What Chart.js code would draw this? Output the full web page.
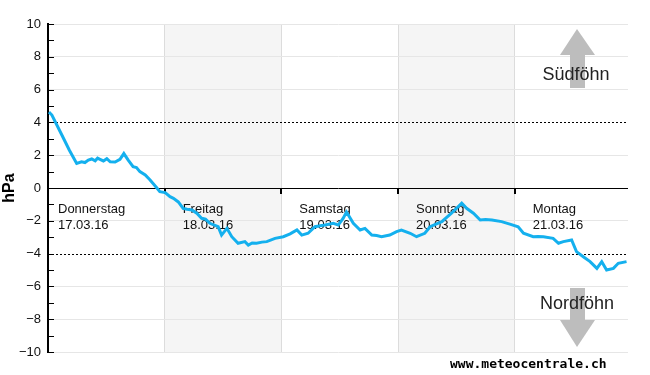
<!DOCTYPE html>
<html>
<head>
<meta charset="utf-8">
<script src="https://cdn.jsdelivr.net/npm/chart.js@4/dist/chart.umd.min.js"></script>
<style>
  body { margin: 0; background: #fff; }
  canvas { display: block; }
</style>
</head>
<body>
<canvas id="foehnChart" width="650" height="375"></canvas>
<script>
// hours since Thursday 17.03.16 00:00
const hours = [0.2, 0.8, 2.9, 4.4, 5.9, 6.9, 7.6, 8.3, 9.0, 9.7, 10.2, 10.7, 11.4, 12.1, 12.8, 13.8, 14.8, 15.6, 16.5,
  17.5, 18.2, 18.9, 20.0, 21.0, 22.4, 23.0, 24.1, 25.1, 25.8, 26.8, 27.8, 28.6, 29.6, 30.6, 31.6, 32.4, 33.3, 35.0, 35.7, 36.8,
  37.8, 39.1, 40.5, 41.2, 42.0, 42.9, 44.0, 45.0, 46.7, 48.4, 49.8, 51.2, 52.2, 53.5, 54.9, 56.0, 57.0, 58.7, 59.7, 60.7,
  61.4, 62.8, 64.2, 65.2, 66.6, 67.6, 68.6, 70.3, 71.7, 72.7, 74.5, 75.8, 77.5, 78.6, 79.8, 81.0, 83.0, 85.1,
  86.1, 87.5, 88.9, 90.0, 91.3, 93.3, 95.0, 96.7, 97.8, 99.8, 100.8, 101.9, 103.9, 105.0, 106.0, 107.7, 108.7,
  110.1, 111.5, 112.9, 113.9, 114.9, 116.3, 117.3, 119.0];
const pressure = [4.63, 4.45, 3.2, 2.3, 1.5, 1.6, 1.55, 1.7, 1.77, 1.66, 1.82, 1.75, 1.65, 1.79, 1.6, 1.58, 1.75, 2.1, 1.7,
  1.3, 1.25, 1.0, 0.8, 0.49, 0.0, -0.22, -0.28, -0.53, -0.63, -0.85, -1.24, -1.3, -1.34, -1.54, -1.85, -1.9, -2.15, -2.36, -2.87, -2.46,
  -2.97, -3.37, -3.27, -3.48, -3.35, -3.37, -3.3, -3.27, -3.07, -2.97, -2.8, -2.56, -2.87, -2.76, -2.36, -2.3, -2.26, -2.15, -2.26, -1.85,
  -1.46, -2.15, -2.56, -2.46, -2.87, -2.9, -2.97, -2.87, -2.66, -2.56, -2.76, -2.97, -2.76, -2.36, -2.2, -2.05, -1.54, -0.93,
  -1.24, -1.54, -1.95, -1.92, -1.95, -2.05, -2.2, -2.36, -2.76, -2.97, -2.95, -2.97, -3.07, -3.37, -3.27, -3.17, -3.88,
  -4.19, -4.49, -4.9, -4.49, -5.0, -4.9, -4.59, -4.49];

const dayNames = ['Donnerstag', 'Freitag', 'Samstag', 'Sonntag', 'Montag'];
const dayDates = ['17.03.16', '18.03.16', '19.03.16', '20.03.16', '21.03.16'];
const shadedDays = [1, 3];
const foehnLimit = 4;

const decorations = {
  id: 'decorations',
  beforeDraw(chart) {
    const { ctx, chartArea: a, scales: { x } } = chart;
    ctx.save();
    ctx.fillStyle = '#f5f5f5';
    shadedDays.forEach(d => {
      const x0 = x.getPixelForValue(d * 24), x1 = x.getPixelForValue((d + 1) * 24);
      ctx.fillRect(x0, a.top, Math.min(x1, a.right) - x0, a.bottom - a.top);
    });
    ctx.restore();
  },
  beforeDatasetsDraw(chart) {
    const { ctx, chartArea: a, scales: { x, y } } = chart;
    ctx.save();
    // dotted foehn limits
    ctx.strokeStyle = '#000';
    ctx.lineWidth = 1;
    ctx.setLineDash([2, 2]);
    [foehnLimit, -foehnLimit].forEach(v => {
      const py = Math.round(y.getPixelForValue(v)) + 0.5;
      ctx.beginPath(); ctx.moveTo(a.left, py); ctx.lineTo(a.right, py); ctx.stroke();
    });
    ctx.setLineDash([]);
    // minor ticks on the y axis
    for (let v = -10; v <= 10; v++) {
      const py = Math.round(y.getPixelForValue(v)) + 0.5;
      ctx.beginPath(); ctx.moveTo(a.left, py); ctx.lineTo(a.left + 6, py); ctx.stroke();
    }
    // day ticks under the zero line
    const y0 = y.getPixelForValue(0);
    ctx.lineWidth = 2;
    for (let d = 1; d < 5; d++) {
      const px = Math.round(x.getPixelForValue(d * 24));
      ctx.beginPath(); ctx.moveTo(px, y0); ctx.lineTo(px, y0 + 6); ctx.stroke();
    }
    // day labels
    ctx.fillStyle = '#111';
    ctx.font = '13px "Liberation Sans", Arial, sans-serif';
    ctx.textBaseline = 'top';
    dayNames.forEach((n, d) => {
      const px = d === 0 ? a.left + 10 : x.getPixelForValue(d * 24) + 18;
      ctx.fillText(n, px, y0 + 15);
      ctx.fillText(dayDates[d], px, y0 + 31);
    });
    ctx.restore();
  },
  afterDraw(chart) {
    const { ctx } = chart;
    ctx.save();
    ctx.fillStyle = '#bdbdbd';
    // up arrow
    ctx.beginPath();
    ctx.moveTo(577, 29); ctx.lineTo(595, 55); ctx.lineTo(560, 55); ctx.closePath(); ctx.fill();
    ctx.fillRect(570, 55, 15, 33);
    // down arrow
    ctx.fillRect(570, 288, 15, 32);
    ctx.beginPath();
    ctx.moveTo(560, 320); ctx.lineTo(595, 320); ctx.lineTo(577, 347); ctx.closePath(); ctx.fill();
    ctx.fillStyle = '#222';
    ctx.font = '18px "Liberation Sans", Arial, sans-serif';
    ctx.textAlign = 'center';
    ctx.textBaseline = 'alphabetic';
    ctx.fillText('Südföhn', 576, 80);
    ctx.fillText('Nordföhn', 577, 309);
    ctx.fillStyle = '#000';
    ctx.font = 'bold 13px "DejaVu Sans Mono", monospace';
    ctx.textAlign = 'left';
    ctx.fillText('www.meteocentrale.ch', 450, 368);
    ctx.restore();
  }
};

const ctx = document.getElementById('foehnChart').getContext('2d');
const foehnChart = new Chart(ctx, {
  type: 'line',
  data: {
    datasets: [{
      data: hours.map((h, i) => ({ x: h, y: pressure[i] })),
      borderColor: '#14b0ee',
      borderWidth: 3,
      pointRadius: 0,
      tension: 0,
      fill: false
    }]
  },
  options: {
    responsive: false,
    animation: false,
    events: [],
    layout: { padding: { top: 24, right: 22, bottom: 23, left: 0 } },
    plugins: { legend: { display: false }, tooltip: { enabled: false } },
    scales: {
      x: {
        type: 'linear',
        min: 0,
        max: 119.3,
        afterFit: s => { s.height = 0; },
        border: { display: false },
        grid: { color: '#dcdcdc', drawTicks: false },
        ticks: { display: false, stepSize: 24, includeBounds: false }
      },
      y: {
        min: -10,
        max: 10,
        afterFit: s => { s.width = 48; },
        border: { color: '#000', width: 2 },
        grid: {
          drawTicks: false,
          color: c => c.tick.value === 0 ? '#000' : (Math.abs(c.tick.value) === foehnLimit ? 'rgba(0,0,0,0)' : '#e6e6e6')
        },
        ticks: {
          stepSize: 2,
          padding: 7,
          color: '#111',
          font: { family: '"Liberation Sans", Arial, sans-serif', size: 13 },
          callback: v => String(v).replace('-', '\u2212')
        },
        title: {
          display: true,
          text: 'hPa',
          color: '#000',
          font: { family: '"Liberation Sans", Arial, sans-serif', size: 16, weight: 'bold' },
          padding: { top: 0, bottom: 0 }
        }
      }
    }
  },
  plugins: [decorations]
});
</script>
</body>
</html>
